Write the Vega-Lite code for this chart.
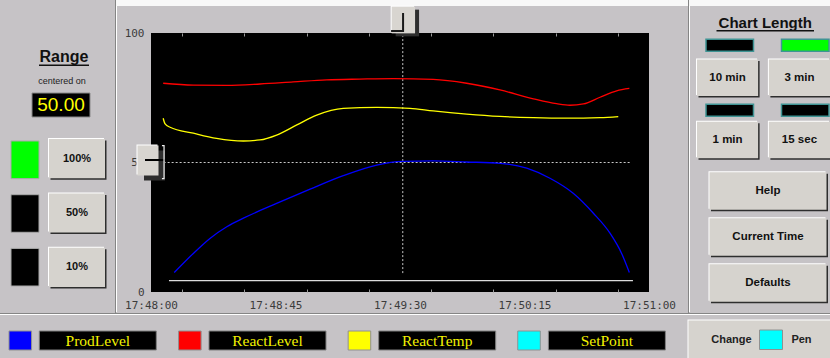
{
"$schema": "https://vega.github.io/schema/vega-lite/v6.json",
"width": 830, "height": 358, "autosize": {"type": "none"}, "padding": 0,
"background": "#c6c3c6",
"config": {"view": {"stroke": null}, "font": "Liberation Sans"},
"data": {"values": [{"frame": "hmi"}]},
"datasets": {
"trend": [
{"series":"ProdLevel","t":8.4,"v":7.5},{"series":"ProdLevel","t":15.3,"v":14.9},{"series":"ProdLevel","t":21.3,"v":20.7},{"series":"ProdLevel","t":27.4,"v":25.2},{"series":"ProdLevel","t":33.4,"v":28.5},{"series":"ProdLevel","t":45.4,"v":34.2},{"series":"ProdLevel","t":57.5,"v":39.7},{"series":"ProdLevel","t":69.5,"v":44.9},{"series":"ProdLevel","t":81.6,"v":49.0},{"series":"ProdLevel","t":91,"v":50.4},{"series":"ProdLevel","t":102,"v":50.6},{"series":"ProdLevel","t":114.1,"v":50.2},{"series":"ProdLevel","t":126.1,"v":49.7},{"series":"ProdLevel","t":135.8,"v":47.8},{"series":"ProdLevel","t":144.2,"v":43.9},{"series":"ProdLevel","t":152.6,"v":38.1},{"series":"ProdLevel","t":159.9,"v":30.4},{"series":"ProdLevel","t":165.9,"v":22.7},{"series":"ProdLevel","t":170.1,"v":14.9},{"series":"ProdLevel","t":172.9,"v":7.5},
{"series":"ReactLevel","t":4.4,"v":80.6},{"series":"ReactLevel","t":15.3,"v":79.9},{"series":"ReactLevel","t":27.4,"v":79.8},{"series":"ReactLevel","t":39.4,"v":80.3},{"series":"ReactLevel","t":51.4,"v":81.1},{"series":"ReactLevel","t":63.5,"v":81.9},{"series":"ReactLevel","t":75.5,"v":82.2},{"series":"ReactLevel","t":87.6,"v":82.4},{"series":"ReactLevel","t":102,"v":82.1},{"series":"ReactLevel","t":114.1,"v":80.6},{"series":"ReactLevel","t":126.1,"v":78.0},{"series":"ReactLevel","t":138.2,"v":74.6},{"series":"ReactLevel","t":146.6,"v":72.7},{"series":"ReactLevel","t":151.4,"v":72.1},{"series":"ReactLevel","t":156.3,"v":72.6},{"series":"ReactLevel","t":162.3,"v":75.2},{"series":"ReactLevel","t":168.3,"v":77.7},{"series":"ReactLevel","t":172.9,"v":78.6},
{"series":"ReactTemp","t":4.4,"v":67.1},{"series":"ReactTemp","t":5.1,"v":64.9},{"series":"ReactTemp","t":6.9,"v":63.6},{"series":"ReactTemp","t":15.3,"v":61.3},{"series":"ReactTemp","t":23.7,"v":59.3},{"series":"ReactTemp","t":33.4,"v":58.3},{"series":"ReactTemp","t":39.4,"v":58.7},{"series":"ReactTemp","t":45.4,"v":60.6},{"series":"ReactTemp","t":52.7,"v":64.5},{"series":"ReactTemp","t":59.9,"v":68.3},{"series":"ReactTemp","t":69.5,"v":70.9},{"series":"ReactTemp","t":81.6,"v":71.3},{"series":"ReactTemp","t":93.6,"v":70.9},{"series":"ReactTemp","t":102,"v":69.9},{"series":"ReactTemp","t":114.1,"v":68.7},{"series":"ReactTemp","t":126.1,"v":67.8},{"series":"ReactTemp","t":138.2,"v":67.3},{"series":"ReactTemp","t":150.2,"v":67.1},{"series":"ReactTemp","t":162.3,"v":67.3},{"series":"ReactTemp","t":168.9,"v":67.7},
{"series":"SetPoint","t":6.5,"v":4.4},{"series":"SetPoint","t":174.2,"v":4.4}
],
"cursor": [{"t":91,"v":50,"t_end":173,"v_end":7.3}],
"pens": [{"series":"ProdLevel"},{"series":"ReactLevel"},{"series":"ReactTemp"},{"series":"SetPoint"}],
"rangeHeader": [{"title":"Range","note":"centered on","center":50}],
"rangeButtons": [{"label":"100%","state":"on"},{"label":"50%","state":"off"},{"label":"10%","state":"off"}],
"lengthHeader": [{"title":"Chart Length"}],
"lengths": [{"label":"10 min","col":"left","row":"top","state":"off"},{"label":"3 min","col":"right","row":"top","state":"on"},{"label":"1 min","col":"left","row":"bottom","state":"off"},{"label":"15 sec","col":"right","row":"bottom","state":"off"}],
"actions": [{"label":"Help"},{"label":"Current Time"},{"label":"Defaults"}],
"penButton": [{"word":"Change"},{"word":"Pen"}],
"edges": [{"edge":"left"},{"edge":"right"}]
},
"resolve": {"scale": {"x":"independent","y":"independent","color":"independent"}},
"layer": [
{"mark":{"type":"rect","fill":"#f8f8f8"},"encoding":{
 "x":{"datum":0,"type":"quantitative","scale":{"domain":[0,1],"range":[116,830],"nice":false,"zero":false},"axis":null},"x2":{"datum":1},
 "y":{"datum":0,"type":"quantitative","scale":{"domain":[0,1],"range":[0,6],"nice":false,"zero":false},"axis":null},"y2":{"datum":1}}},
{"data":{"name":"edges"},"mark":{"type":"rule","color":"#858585","strokeWidth":1},"encoding":{
 "x":{"field":"edge","type":"nominal","scale":{"type":"point","domain":["left","right"],"range":[115.5,688.5],"padding":0},"axis":null},
 "y":{"datum":0,"type":"quantitative","scale":{"domain":[0,1],"range":[0,313],"nice":false,"zero":false},"axis":null},"y2":{"datum":1}}},
{"data":{"name":"edges"},"mark":{"type":"rule","color":"#ffffff","strokeWidth":1},"encoding":{
 "x":{"field":"edge","type":"nominal","scale":{"type":"point","domain":["left","right"],"range":[116.5,689.5],"padding":0},"axis":null},
 "y":{"datum":0,"type":"quantitative","scale":{"domain":[0,1],"range":[6,312],"nice":false,"zero":false},"axis":null},"y2":{"datum":1}}},
{"mark":{"type":"rule","color":"#858585","strokeWidth":1},"encoding":{
 "x":{"datum":0,"type":"quantitative","scale":{"domain":[0,1],"range":[0,830],"nice":false,"zero":false},"axis":null},"x2":{"datum":1},
 "y":{"datum":0,"type":"quantitative","scale":{"domain":[0,1],"range":[313.5,400],"nice":false,"zero":false},"axis":null}}},
{"mark":{"type":"rule","color":"#ffffff","strokeWidth":1},"encoding":{
 "x":{"datum":0,"type":"quantitative","scale":{"domain":[0,1],"range":[0,830],"nice":false,"zero":false},"axis":null},"x2":{"datum":1},
 "y":{"datum":0,"type":"quantitative","scale":{"domain":[0,1],"range":[314.5,400],"nice":false,"zero":false},"axis":null}}},

{"mark":{"type":"rect","color":"#000000"},"encoding":{
 "x":{"datum":0,"type":"quantitative","scale":{"domain":[0,180],"range":[151,649],"nice":false,"zero":false},
  "axis":{"orient":"top","offset":-33,"values":[11.25,33.75,56.25,78.75,101.25,123.75,146.25,168.75],"labels":false,"domain":false,"grid":false,"tickSize":-3,"tickColor":"#9a9a9a","title":null,"zindex":1}},
 "x2":{"datum":180},
 "y":{"datum":0,"type":"quantitative","scale":{"domain":[0,100],"range":[292,33],"nice":false,"zero":false},"axis":null},
 "y2":{"datum":100}}},
{"data":{"name":"cursor"},"mark":{"type":"rule","color":"#c8c8c8","strokeDash":[2,2],"strokeWidth":1},"encoding":{
 "x":{"field":"t","type":"quantitative","scale":{"domain":[0,180],"range":[151,649],"nice":false,"zero":false},"axis":null},
 "y":{"field":"v_end","type":"quantitative","scale":{"domain":[0,100],"range":[292,33],"nice":false,"zero":false},"axis":null},
 "y2":{"datum":100}}},
{"data":{"name":"cursor"},"mark":{"type":"rule","color":"#c8c8c8","strokeDash":[2,2],"strokeWidth":1},"encoding":{
 "x":{"field":"t_end","type":"quantitative","scale":{"domain":[0,180],"range":[151,649],"nice":false,"zero":false},"axis":null},
 "x2":{"datum":0},
 "y":{"field":"v","type":"quantitative","scale":{"domain":[0,100],"range":[292,33],"nice":false,"zero":false},"axis":null}}},
{"data":{"name":"trend"},"mark":{"type":"line","interpolate":"monotone","strokeWidth":1.3},"encoding":{
 "x":{"field":"t","type":"quantitative","scale":{"domain":[0,180],"range":[151,649],"nice":false,"zero":false},
  "axis":{"orient":"bottom","offset":-66,"values":[0,11.25,33.75,45,56.25,78.75,90,101.25,123.75,135,146.25,168.75,180],
   "labelExpr":"datum.value % 45 == 0 ? timeFormat(datetime(2000,0,1,17,48,datum.value),'%H:%M:%S') : ''",
   "domain":false,"grid":false,"tickSize":-3,"tickColor":"#9a9a9a",
   "tickOpacity":{"condition":{"test":"datum.value % 45 == 0","value":0},"value":1},
   "labelFont":"DejaVu Sans Mono","labelFontSize":11,"labelColor":"#3c3c3c","labelPadding":10,"labelFlush":false,"labelOverlap":false,"labelBound":false,"title":null,"zindex":1}},
 "y":{"field":"v","type":"quantitative","scale":{"domain":[0,100],"range":[292,33],"nice":false,"zero":false},
  "axis":{"orient":"left","offset":-151,"values":[0,50,100],"domain":false,"ticks":false,"grid":false,"labelFont":"DejaVu Sans Mono","labelFontSize":11,"labelColor":"#3c3c3c","labelPadding":7,"labelFlush":false,"labelOverlap":false,"title":null}},
 "color":{"field":"series","type":"nominal","scale":{"domain":["ProdLevel","ReactLevel","ReactTemp","SetPoint"],"range":["#0000ff","#ff0000","#ffff00","#dcdcdc"]},"legend":null}}},

{"data":{"name":"cursor"},"mark":{"type":"point","shape":"M-0.7,-1H0.7V1H-0.7Z","size":900,"filled":true,"fill":"#2e2e2e","strokeWidth":0,"opacity":1,"xOffset":3.5,"yOffset":3},"encoding":{
 "x":{"datum":0,"type":"quantitative","scale":{"domain":[0,180],"range":[151,649],"nice":false,"zero":false},"axis":null},
 "y":{"field":"v","type":"quantitative","scale":{"domain":[0,100],"range":[292,33],"nice":false,"zero":false},"axis":null}}},
{"data":{"name":"cursor"},"mark":{"type":"point","shape":"M-0.7,-1H0.7V1H-0.7Z","size":900,"filled":true,"fill":"#ffffff","strokeWidth":0,"opacity":1,"xOffset":-4,"yOffset":-3},"encoding":{
 "x":{"datum":0,"type":"quantitative","scale":{"domain":[0,180],"range":[151,649],"nice":false,"zero":false},"axis":null},
 "y":{"field":"v","type":"quantitative","scale":{"domain":[0,100],"range":[292,33],"nice":false,"zero":false},"axis":null}}},
{"data":{"name":"cursor"},"mark":{"type":"point","shape":"M-0.7,-1H0.7V1H-0.7Z","size":900,"filled":true,"fill":"#d8d5d0","strokeWidth":0,"opacity":1,"xOffset":-3,"yOffset":-2},"encoding":{
 "x":{"datum":0,"type":"quantitative","scale":{"domain":[0,180],"range":[151,649],"nice":false,"zero":false},"axis":null},
 "y":{"field":"v","type":"quantitative","scale":{"domain":[0,100],"range":[292,33],"nice":false,"zero":false},"axis":null}}},
{"data":{"name":"cursor"},"mark":{"type":"point","shape":"M-0.4,0H0.93","size":900,"filled":false,"stroke":"#000000","strokeWidth":2,"opacity":1,"yOffset":-2.5},"encoding":{
 "x":{"datum":0,"type":"quantitative","scale":{"domain":[0,180],"range":[151,649],"nice":false,"zero":false},"axis":null},
 "y":{"field":"v","type":"quantitative","scale":{"domain":[0,100],"range":[292,33],"nice":false,"zero":false},"axis":null}}},
{"data":{"name":"cursor"},"mark":{"type":"point","shape":"M0.73,-1.13H0.87V1.07H0.73","size":900,"filled":false,"stroke":"#f0f0f0","strokeWidth":1.2,"opacity":1},"encoding":{
 "x":{"datum":0,"type":"quantitative","scale":{"domain":[0,180],"range":[151,649],"nice":false,"zero":false},"axis":null},
 "y":{"field":"v","type":"quantitative","scale":{"domain":[0,100],"range":[292,33],"nice":false,"zero":false},"axis":null}}},
{"data":{"name":"cursor"},"mark":{"type":"point","shape":"M-0.78,-0.89H0.78V0.89H-0.78Z","size":900,"filled":true,"fill":"#2e2e2e","strokeWidth":0,"opacity":1,"xOffset":4.6,"yOffset":-10},"encoding":{
 "x":{"field":"t","type":"quantitative","scale":{"domain":[0,180],"range":[151,649],"nice":false,"zero":false},"axis":null},
 "y":{"datum":100,"type":"quantitative","scale":{"domain":[0,100],"range":[292,33],"nice":false,"zero":false},"axis":null}}},
{"data":{"name":"cursor"},"mark":{"type":"point","shape":"M-0.78,-0.89H0.78V0.89H-0.78Z","size":900,"filled":true,"fill":"#ffffff","strokeWidth":0,"opacity":1,"xOffset":-0.4,"yOffset":-14},"encoding":{
 "x":{"field":"t","type":"quantitative","scale":{"domain":[0,180],"range":[151,649],"nice":false,"zero":false},"axis":null},
 "y":{"datum":100,"type":"quantitative","scale":{"domain":[0,100],"range":[292,33],"nice":false,"zero":false},"axis":null}}},
{"data":{"name":"cursor"},"mark":{"type":"point","shape":"M-0.78,-0.89H0.78V0.89H-0.78Z","size":900,"filled":true,"fill":"#d8d5d0","strokeWidth":0,"opacity":1,"xOffset":0.6,"yOffset":-13},"encoding":{
 "x":{"field":"t","type":"quantitative","scale":{"domain":[0,180],"range":[151,649],"nice":false,"zero":false},"axis":null},
 "y":{"datum":100,"type":"quantitative","scale":{"domain":[0,100],"range":[292,33],"nice":false,"zero":false},"axis":null}}},
{"data":{"name":"cursor"},"mark":{"type":"point","shape":"M0,-0.47V0.73H-0.8","size":900,"filled":false,"stroke":"#1a1a1a","strokeWidth":2,"opacity":1,"xOffset":0.3,"yOffset":-13},"encoding":{
 "x":{"field":"t","type":"quantitative","scale":{"domain":[0,180],"range":[151,649],"nice":false,"zero":false},"axis":null},
 "y":{"datum":100,"type":"quantitative","scale":{"domain":[0,100],"range":[292,33],"nice":false,"zero":false},"axis":null}}},

{"data":{"name":"rangeHeader"},"mark":{"type":"text","fontWeight":"bold","fontSize":16,"color":"#111111","baseline":"middle","align":"center"},"encoding":{
 "text":{"field":"title"},
 "x":{"datum":0.5,"type":"quantitative","scale":{"domain":[0,1],"range":[39,89],"nice":false,"zero":false},"axis":null},
 "y":{"datum":0.5,"type":"quantitative","scale":{"domain":[0,1],"range":[50,63],"nice":false,"zero":false},"axis":null}}},
{"data":{"name":"rangeHeader"},"mark":{"type":"rect","color":"#111111"},"encoding":{
 "x":{"datum":0,"type":"quantitative","scale":{"domain":[0,1],"range":[39,89],"nice":false,"zero":false},"axis":null},"x2":{"datum":1},
 "y":{"datum":0,"type":"quantitative","scale":{"domain":[0,1],"range":[64.5,66],"nice":false,"zero":false},"axis":null},"y2":{"datum":1}}},
{"data":{"name":"rangeHeader"},"mark":{"type":"text","font":"Liberation Sans Narrow, Liberation Sans","fontSize":9,"color":"#222222","baseline":"middle","align":"center"},"encoding":{
 "text":{"field":"note"},
 "x":{"datum":0.5,"type":"quantitative","scale":{"domain":[0,1],"range":[42,82],"nice":false,"zero":false},"axis":null},
 "y":{"datum":0.5,"type":"quantitative","scale":{"domain":[0,1],"range":[78,84],"nice":false,"zero":false},"axis":null}}},
{"data":{"name":"rangeHeader"},"mark":{"type":"rect","color":"#000000","stroke":"#8a8a8a","strokeWidth":1},"encoding":{
 "x":{"datum":0,"type":"quantitative","scale":{"domain":[0,1],"range":[32,90],"nice":false,"zero":false},"axis":null},"x2":{"datum":1},
 "y":{"datum":0,"type":"quantitative","scale":{"domain":[0,1],"range":[93,117],"nice":false,"zero":false},"axis":null},"y2":{"datum":1}}},
{"data":{"name":"rangeHeader"},"mark":{"type":"text","font":"Liberation Sans Narrow, Liberation Sans","fontSize":19,"color":"#ffff00","baseline":"middle","align":"center"},"encoding":{
 "text":{"field":"center","type":"quantitative","format":".2f"},
 "x":{"datum":0.5,"type":"quantitative","scale":{"domain":[0,1],"range":[32,90],"nice":false,"zero":false},"axis":null},
 "y":{"datum":0.5,"type":"quantitative","scale":{"domain":[0,1],"range":[93,117],"nice":false,"zero":false},"axis":null}}},
{"data":{"name":"rangeButtons"},"mark":{"type":"rect","stroke":"#a8a8a8","strokeWidth":1},"encoding":{
 "x":{"datum":0,"type":"quantitative","scale":{"domain":[0,1],"range":[11,39],"nice":false,"zero":false},"axis":null},"x2":{"datum":1},
 "y":{"field":"label","type":"nominal","scale":{"type":"band","domain":["100%","50%","10%"],"range":[141,286],"paddingInner":0.3,"paddingOuter":0},"axis":null},
 "color":{"field":"state","type":"nominal","scale":{"domain":["on","off"],"range":["#00ff00","#000000"]},"legend":null}}},
{"data":{"name":"rangeButtons"},"mark":{"type":"rect","fill":"#2e2e2e","xOffset":1.5,"x2Offset":1.5,"yOffset":1.5},"encoding":{
 "x":{"datum":0,"type":"quantitative","scale":{"domain":[0,1],"range":[49,105],"nice":false,"zero":false},"axis":null},"x2":{"datum":1},
 "y":{"field":"label","type":"nominal","scale":{"type":"band","domain":["100%","50%","10%"],"range":[139,287],"paddingInner":0.28,"paddingOuter":0},"axis":null}}},
{"data":{"name":"rangeButtons"},"mark":{"type":"rect","fill":"#ffffff","xOffset":-1,"x2Offset":-1,"yOffset":-1},"encoding":{
 "x":{"datum":0,"type":"quantitative","scale":{"domain":[0,1],"range":[49,105],"nice":false,"zero":false},"axis":null},"x2":{"datum":1},
 "y":{"field":"label","type":"nominal","scale":{"type":"band","domain":["100%","50%","10%"],"range":[139,287],"paddingInner":0.28,"paddingOuter":0},"axis":null}}},
{"data":{"name":"rangeButtons"},"mark":{"type":"rect","fill":"#d6d3ce"},"encoding":{
 "x":{"datum":0,"type":"quantitative","scale":{"domain":[0,1],"range":[49,105],"nice":false,"zero":false},"axis":null},"x2":{"datum":1},
 "y":{"field":"label","type":"nominal","scale":{"type":"band","domain":["100%","50%","10%"],"range":[139,287],"paddingInner":0.28,"paddingOuter":0},"axis":null}}},
{"data":{"name":"rangeButtons"},"mark":{"type":"text","fontWeight":"bold","fontSize":11,"color":"#111111","baseline":"middle","align":"center"},"encoding":{
 "text":{"field":"label"},
 "x":{"datum":0.5,"type":"quantitative","scale":{"domain":[0,1],"range":[49,105],"nice":false,"zero":false},"axis":null},
 "y":{"field":"label","type":"nominal","scale":{"type":"band","domain":["100%","50%","10%"],"range":[139,287],"paddingInner":0.28,"paddingOuter":0},"axis":null}}},

{"data":{"name":"lengthHeader"},"mark":{"type":"text","fontWeight":"bold","fontSize":15,"color":"#111111","baseline":"middle","align":"center"},"encoding":{
 "text":{"field":"title"},
 "x":{"datum":0.5,"type":"quantitative","scale":{"domain":[0,1],"range":[716.5,814],"nice":false,"zero":false},"axis":null},
 "y":{"datum":0.5,"type":"quantitative","scale":{"domain":[0,1],"range":[18.3,28.3],"nice":false,"zero":false},"axis":null}}},
{"data":{"name":"lengthHeader"},"mark":{"type":"rect","color":"#111111"},"encoding":{
 "x":{"datum":0,"type":"quantitative","scale":{"domain":[0,1],"range":[716.5,814],"nice":false,"zero":false},"axis":null},"x2":{"datum":1},
 "y":{"datum":0,"type":"quantitative","scale":{"domain":[0,1],"range":[30,31.5],"nice":false,"zero":false},"axis":null},"y2":{"datum":1}}},
{"data":{"name":"lengths"},"mark":{"type":"rect","stroke":"#3f9494","strokeWidth":1.5},"encoding":{
 "x":{"field":"col","type":"nominal","scale":{"type":"band","domain":["left","right"],"range":[706,829],"paddingInner":0.371,"paddingOuter":0},"axis":null},
 "y":{"field":"row","type":"nominal","scale":{"type":"band","domain":["top","bottom"],"range":[39.3,116.3],"paddingInner":0.815,"paddingOuter":0},"axis":null},
 "color":{"field":"state","type":"nominal","scale":{"domain":["on","off"],"range":["#00ff00","#000000"]},"legend":null}}},
{"data":{"name":"lengths"},"mark":{"type":"rect","fill":"#2e2e2e","xOffset":1.5,"yOffset":1.5},"encoding":{
 "x":{"field":"col","type":"nominal","scale":{"type":"band","domain":["left","right"],"range":[697,830],"paddingInner":0.15,"paddingOuter":0},"axis":null},
 "y":{"field":"row","type":"nominal","scale":{"type":"band","domain":["top","bottom"],"range":[59.5,158.3],"paddingInner":0.414,"paddingOuter":0},"axis":null}}},
{"data":{"name":"lengths"},"mark":{"type":"rect","fill":"#ffffff","xOffset":-1,"yOffset":-1},"encoding":{
 "x":{"field":"col","type":"nominal","scale":{"type":"band","domain":["left","right"],"range":[697,830],"paddingInner":0.15,"paddingOuter":0},"axis":null},
 "y":{"field":"row","type":"nominal","scale":{"type":"band","domain":["top","bottom"],"range":[59.5,158.3],"paddingInner":0.414,"paddingOuter":0},"axis":null}}},
{"data":{"name":"lengths"},"mark":{"type":"rect","fill":"#d6d3ce"},"encoding":{
 "x":{"field":"col","type":"nominal","scale":{"type":"band","domain":["left","right"],"range":[697,830],"paddingInner":0.15,"paddingOuter":0},"axis":null},
 "y":{"field":"row","type":"nominal","scale":{"type":"band","domain":["top","bottom"],"range":[59.5,158.3],"paddingInner":0.414,"paddingOuter":0},"axis":null}}},
{"data":{"name":"lengths"},"mark":{"type":"text","fontWeight":"bold","fontSize":11.5,"color":"#111111","baseline":"middle","align":"center"},"encoding":{
 "text":{"field":"label"},
 "x":{"field":"col","type":"nominal","scale":{"type":"band","domain":["left","right"],"range":[697,830],"paddingInner":0.15,"paddingOuter":0},"axis":null},
 "y":{"field":"row","type":"nominal","scale":{"type":"band","domain":["top","bottom"],"range":[59.5,158.3],"paddingInner":0.414,"paddingOuter":0},"axis":null}}},
{"data":{"name":"actions"},"mark":{"type":"rect","fill":"#2e2e2e","xOffset":1.5,"x2Offset":1.5,"yOffset":1.5},"encoding":{
 "x":{"datum":0,"type":"quantitative","scale":{"domain":[0,1],"range":[709.5,826.5],"nice":false,"zero":false},"axis":null},"x2":{"datum":1},
 "y":{"field":"label","type":"nominal","scale":{"type":"band","domain":["Help","Current Time","Defaults"],"range":[172.3,301.7],"paddingInner":0.184,"paddingOuter":0},"axis":null}}},
{"data":{"name":"actions"},"mark":{"type":"rect","fill":"#ffffff","xOffset":-1,"x2Offset":-1,"yOffset":-1},"encoding":{
 "x":{"datum":0,"type":"quantitative","scale":{"domain":[0,1],"range":[709.5,826.5],"nice":false,"zero":false},"axis":null},"x2":{"datum":1},
 "y":{"field":"label","type":"nominal","scale":{"type":"band","domain":["Help","Current Time","Defaults"],"range":[172.3,301.7],"paddingInner":0.184,"paddingOuter":0},"axis":null}}},
{"data":{"name":"actions"},"mark":{"type":"rect","fill":"#d6d3ce"},"encoding":{
 "x":{"datum":0,"type":"quantitative","scale":{"domain":[0,1],"range":[709.5,826.5],"nice":false,"zero":false},"axis":null},"x2":{"datum":1},
 "y":{"field":"label","type":"nominal","scale":{"type":"band","domain":["Help","Current Time","Defaults"],"range":[172.3,301.7],"paddingInner":0.184,"paddingOuter":0},"axis":null}}},
{"data":{"name":"actions"},"mark":{"type":"text","fontWeight":"bold","fontSize":11.5,"color":"#111111","baseline":"middle","align":"center"},"encoding":{
 "text":{"field":"label"},
 "x":{"datum":0.5,"type":"quantitative","scale":{"domain":[0,1],"range":[709.5,826.5],"nice":false,"zero":false},"axis":null},
 "y":{"field":"label","type":"nominal","scale":{"type":"band","domain":["Help","Current Time","Defaults"],"range":[172.3,301.7],"paddingInner":0.184,"paddingOuter":0},"axis":null}}},

{"data":{"name":"pens"},"mark":{"type":"rect","stroke":"#909090","strokeWidth":1},"encoding":{
 "x":{"field":"series","type":"nominal","scale":{"type":"band","domain":["ProdLevel","ReactLevel","ReactTemp","SetPoint"],"range":[9,540.3],"paddingInner":0.867,"paddingOuter":0},"axis":null},
 "y":{"datum":0,"type":"quantitative","scale":{"domain":[0,1],"range":[331,350],"nice":false,"zero":false},"axis":null},"y2":{"datum":1},
 "color":{"field":"series","type":"nominal","scale":{"domain":["ProdLevel","ReactLevel","ReactTemp","SetPoint"],"range":["#0000ff","#ff0000","#ffff00","#00ffff"]},"legend":null}}},
{"data":{"name":"pens"},"mark":{"type":"rect","color":"#000000","stroke":"#808080","strokeWidth":1},"encoding":{
 "x":{"field":"series","type":"nominal","scale":{"type":"band","domain":["ProdLevel","ReactLevel","ReactTemp","SetPoint"],"range":[39.3,665.4],"paddingInner":0.3105,"paddingOuter":0},"axis":null},
 "y":{"datum":0,"type":"quantitative","scale":{"domain":[0,1],"range":[331,350],"nice":false,"zero":false},"axis":null},"y2":{"datum":1}}},
{"data":{"name":"pens"},"mark":{"type":"text","font":"Liberation Serif","fontSize":15.5,"color":"#f2f200","baseline":"middle","align":"center"},"encoding":{
 "text":{"field":"series"},
 "x":{"field":"series","type":"nominal","scale":{"type":"band","domain":["ProdLevel","ReactLevel","ReactTemp","SetPoint"],"range":[39.3,665.4],"paddingInner":0.3105,"paddingOuter":0},"axis":null},
 "y":{"datum":0.5,"type":"quantitative","scale":{"domain":[0,1],"range":[331,350],"nice":false,"zero":false},"axis":null}}},
{"mark":{"type":"rect","fill":"#2e2e2e","xOffset":1.5,"x2Offset":1.5,"yOffset":1.5,"y2Offset":1.5},"encoding":{
 "x":{"datum":0,"type":"quantitative","scale":{"domain":[0,1],"range":[688.5,834],"nice":false,"zero":false},"axis":null},"x2":{"datum":1},
 "y":{"datum":0,"type":"quantitative","scale":{"domain":[0,1],"range":[320.5,362],"nice":false,"zero":false},"axis":null},"y2":{"datum":1}}},
{"mark":{"type":"rect","fill":"#ffffff","xOffset":-1,"x2Offset":-1,"yOffset":-1,"y2Offset":-1},"encoding":{
 "x":{"datum":0,"type":"quantitative","scale":{"domain":[0,1],"range":[688.5,834],"nice":false,"zero":false},"axis":null},"x2":{"datum":1},
 "y":{"datum":0,"type":"quantitative","scale":{"domain":[0,1],"range":[320.5,362],"nice":false,"zero":false},"axis":null},"y2":{"datum":1}}},
{"mark":{"type":"rect","fill":"#d6d3ce"},"encoding":{
 "x":{"datum":0,"type":"quantitative","scale":{"domain":[0,1],"range":[688.5,834],"nice":false,"zero":false},"axis":null},"x2":{"datum":1},
 "y":{"datum":0,"type":"quantitative","scale":{"domain":[0,1],"range":[320.5,362],"nice":false,"zero":false},"axis":null},"y2":{"datum":1}}},
{"data":{"name":"pens"},"transform":[{"filter":"datum.series == 'SetPoint'"}],"mark":{"type":"rect","stroke":"#909090","strokeWidth":1},"encoding":{
 "x":{"datum":0,"type":"quantitative","scale":{"domain":[0,1],"range":[759.5,782.5],"nice":false,"zero":false},"axis":null},"x2":{"datum":1},
 "y":{"datum":0,"type":"quantitative","scale":{"domain":[0,1],"range":[330,349.5],"nice":false,"zero":false},"axis":null},"y2":{"datum":1},
 "color":{"field":"series","type":"nominal","scale":{"domain":["ProdLevel","ReactLevel","ReactTemp","SetPoint"],"range":["#0000ff","#ff0000","#ffff00","#00ffff"]},"legend":null}}},
{"data":{"name":"penButton"},"mark":{"type":"text","fontWeight":"bold","fontSize":11,"color":"#222222","baseline":"middle","align":"center"},"encoding":{
 "text":{"field":"word"},
 "x":{"field":"word","type":"nominal","scale":{"type":"point","domain":["Change","Pen"],"range":[731.5,801.5],"padding":0},"axis":null},
 "y":{"datum":0.5,"type":"quantitative","scale":{"domain":[0,1],"range":[338,341],"nice":false,"zero":false},"axis":null}}}
]
}
